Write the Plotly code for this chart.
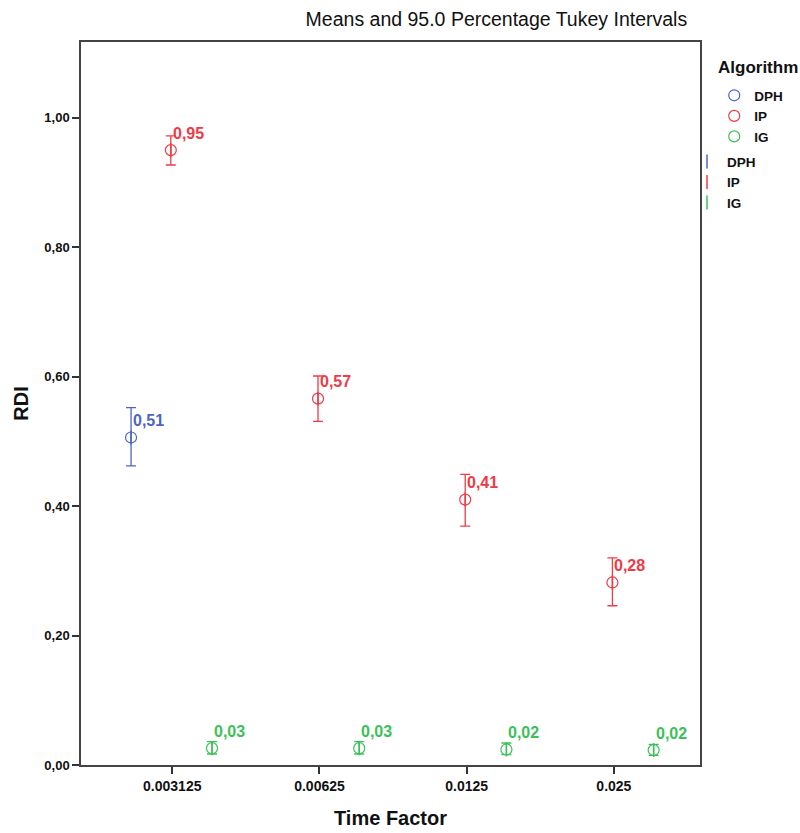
import plotly.graph_objects as go

# ---------------- data ----------------
categories = ["0.003125", "0.00625", "0.0125", "0.025"]
algorithms = ["DPH", "IP", "IG"]

dph_cat = ["0.003125"]
dph_mean = [0.506]
dph_low = [0.462]
dph_high = [0.552]
dph_label = ["0,51"]

ip_cat = ["0.003125", "0.00625", "0.0125", "0.025"]
ip_mean = [0.950, 0.566, 0.410, 0.282]
ip_low = [0.927, 0.531, 0.369, 0.246]
ip_high = [0.972, 0.601, 0.449, 0.320]
ip_label = ["0,95", "0,57", "0,41", "0,28"]

ig_cat = ["0.003125", "0.00625", "0.0125", "0.025"]
ig_mean = [0.026, 0.026, 0.024, 0.023]
ig_low = [0.017, 0.017, 0.016, 0.015]
ig_high = [0.036, 0.036, 0.034, 0.032]
ig_label = ["0,03", "0,03", "0,02", "0,02"]

y_ticks = [0.0, 0.2, 0.4, 0.6, 0.8, 1.0]
y_tick_labels = ["0,00", "0,20", "0,40", "0,60", "0,80", "1,00"]

colors = {"DPH": "#4b66c2", "IP": "#ee3b47", "IG": "#3dbf5a"}
offsets = {"DPH": -0.28, "IP": -0.01, "IG": 0.27}

series = {
    "DPH": (dph_cat, dph_mean, dph_low, dph_high, dph_label),
    "IP": (ip_cat, ip_mean, ip_low, ip_high, ip_label),
    "IG": (ig_cat, ig_mean, ig_low, ig_high, ig_label),
}

FONT = "Liberation Sans, Arial, sans-serif"

fig = go.Figure()

# circles (means)
for alg in algorithms:
    cats, mean, low, high, lab = series[alg]
    xs = [categories.index(c) + offsets[alg] for c in cats]
    fig.add_trace(go.Scatter(
        x=xs, y=mean, mode="markers", name=alg,
        legend="legend",
        marker=dict(symbol="circle-open", size=11, color=colors[alg],
                    line=dict(width=1.2, color=colors[alg])),
        hoverinfo="skip",
    ))

# error bars (intervals)
for alg in algorithms:
    cats, mean, low, high, lab = series[alg]
    xs = [categories.index(c) + offsets[alg] for c in cats]
    fig.add_trace(go.Scatter(
        x=xs, y=mean, mode="markers", name=alg,
        legend="legend2",
        marker=dict(symbol="line-ns-open", size=10, color=colors[alg],
                    line=dict(width=1.5, color=colors[alg])),
        error_y=dict(type="data", symmetric=False,
                     array=[h - m for h, m in zip(high, mean)],
                     arrayminus=[m - l for m, l in zip(mean, low)],
                     color=colors[alg], thickness=1.3, width=5),
        hoverinfo="skip",
    ))

# value labels
for alg in algorithms:
    cats, mean, low, high, lab = series[alg]
    for c, m, t in zip(cats, mean, lab):
        fig.add_annotation(
            x=categories.index(c) + offsets[alg], y=m,
            text="<b>" + t + "</b>", showarrow=False,
            xanchor="left", yanchor="middle", xshift=0, yshift=17,
            font=dict(family=FONT, size=16, color=colors[alg]),
        )

# legend heading
fig.add_annotation(
    text="<b>Algorithm</b>", xref="paper", yref="paper",
    x=1.026, y=0.9654, xanchor="left", yanchor="middle", showarrow=False,
    font=dict(family=FONT, size=17, color="#111"),
)

legend_font = dict(family=FONT, size=13.5, color="#111", weight="bold")

fig.update_layout(
    width=800, height=833,
    margin=dict(l=81, r=100, t=42, b=68, autoexpand=False),
    paper_bgcolor="white", plot_bgcolor="white",
    title=dict(text="Means and 95.0 Percentage Tukey Intervals",
               x=0.859, xanchor="right", xref="container",
               y=0.977, yanchor="middle", yref="container",
               font=dict(family=FONT, size=19.5, color="#111")),
    showlegend=True,
    legend=dict(
        x=1.023, xanchor="left", y=0.9474, yanchor="top",
        font=legend_font, itemwidth=30, bgcolor="rgba(0,0,0,0)",
        tracegroupgap=0,
    ),
    legend2=dict(
        x=0.979, xanchor="left", y=0.856, yanchor="top",
        font=legend_font, itemwidth=30, bgcolor="rgba(0,0,0,0)",
        tracegroupgap=0,
    ),
    xaxis=dict(
        range=[-0.62, 3.585],
        tickvals=list(range(len(categories))),
        ticktext=["<b>" + c + "</b>" for c in categories],
        ticks="outside", ticklen=7, tickcolor="#333", tickwidth=1.5,
        showgrid=False, zeroline=False,
        showline=True, linecolor="#444", linewidth=1.5, mirror=True,
        tickfont=dict(family=FONT, size=14, color="#111"),
        title=dict(text="<b>Time Factor</b>", standoff=18,
                   font=dict(family=FONT, size=20, color="#111")),
    ),
    yaxis=dict(
        range=[0, 1.117],
        tickvals=y_ticks, ticktext=["<b>" + t + "</b>" for t in y_tick_labels],
        ticks="outside", ticklen=7, tickcolor="#333", tickwidth=1.5,
        showgrid=False, zeroline=False,
        showline=True, linecolor="#444", linewidth=1.5, mirror=True,
        tickfont=dict(family=FONT, size=13, color="#111"),
        title=dict(text="<b>RDI</b>", standoff=10,
                   font=dict(family=FONT, size=20, color="#111")),
    ),
)

fig.write_html("out.html", config={"displayModeBar": False},
               post_script="document.body.style.margin='0';")
